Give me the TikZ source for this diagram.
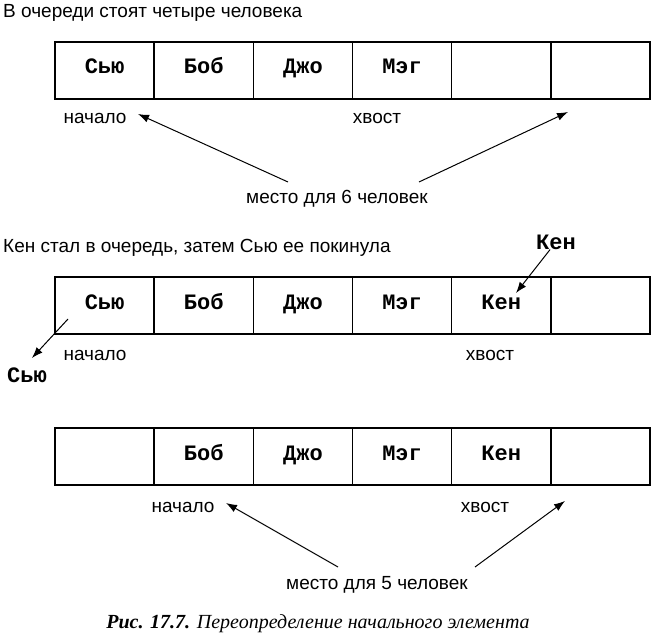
\documentclass[tikz,border=0pt]{standalone}
\usepackage{fontspec}
\setmainfont{Liberation Sans}
\newfontfamily\cellfont{Liberation Mono}
\newfontfamily\capfont{Liberation Serif}
\usetikzlibrary{arrows.meta}
\begin{document}
\begin{tikzpicture}[x=1pt,y=-1pt,
  cell/.style={draw, line width=1.6pt, minimum width=99.17pt, minimum height=57pt, inner sep=0pt, text height=11pt, text depth=4pt, font=\cellfont\bfseries\fontsize{22}{24}\selectfont},
  lbl/.style={inner sep=0pt, font=\fontsize{19}{21}\selectfont},
  mono/.style={inner sep=0pt, font=\cellfont\bfseries\fontsize{22}{24}\selectfont},
  arr/.style={line width=1pt, -{Latex[length=11pt,width=8pt]}}
]
\useasboundingbox (0,0) rectangle (653,636);
% Titles
\node[lbl, anchor=west] (t1) at (3,13) {В очереди стоят четыре человека};
\node[lbl, anchor=west] (t2) at (3,248) {Кен стал в очередь, затем Сью ее покинула};
% Row 1
\foreach \i/\t in {1/Сью,2/Боб,3/Джо,4/Мэг,5/{},6/{}}
  \node[cell] (ra\i) at ({55+99.17*(\i-0.5)},70.5) {\t};
% Row 2
\foreach \i/\t in {1/Сью,2/Боб,3/Джо,4/Мэг,5/Кен,6/{}}
  \node[cell] (rb\i) at ({55+99.17*(\i-0.5)},305.5) {\t};
% Row 3
\foreach \i/\t in {1/{},2/Боб,3/Джо,4/Мэг,5/Кен,6/{}}
  \node[cell] (rc\i) at ({55+99.17*(\i-0.5)},456.5) {\t};
% Row 1 labels
\node[lbl] (n1) at (95,118) {начало};
\node[lbl] (x1) at (377,118) {хвост};
\node[lbl] (m1) at (337,199) {место для 6 человек};
\coordinate (m1a) at (288,182);
\coordinate (m1b) at (419,182);
\coordinate (h1) at (138,114);
\coordinate (e1) at (568,112);
\draw[arr] (m1a) -- (h1);
\draw[arr] (m1b) -- (e1);
% Row 2 labels
\node[mono] (ken) at (556,242) {Кен};
\coordinate (kt) at (516,293);
\draw[arr] (ken) -- (kt);
\node[lbl] (n2) at (95,355) {начало};
\node[lbl] (x2) at (490,355) {хвост};
\coordinate (ss) at (68,319);
\coordinate (st) at (32,358);
\draw[arr] (ss) -- (st);
\node[mono] (sue) at (27,375) {Сью};
% Row 3 labels
\node[lbl] (n3) at (183,507) {начало};
\node[lbl] (x3) at (485,507) {хвост};
\node[lbl] (m3) at (377,585) {место для 5 человек};
\coordinate (m3a) at (338,567);
\coordinate (m3b) at (475,567);
\coordinate (h3) at (226,503);
\coordinate (e3) at (565,501);
\draw[arr] (m3a) -- (h3);
\draw[arr] (m3b) -- (e3);
% Caption
\node[inner sep=0pt, font=\capfont\itshape\fontsize{20}{22}\selectfont] (cap) at (318,624) {\textbf{Рис. 17.7.} Переопределение начального элемента};
\end{tikzpicture}
\end{document}
